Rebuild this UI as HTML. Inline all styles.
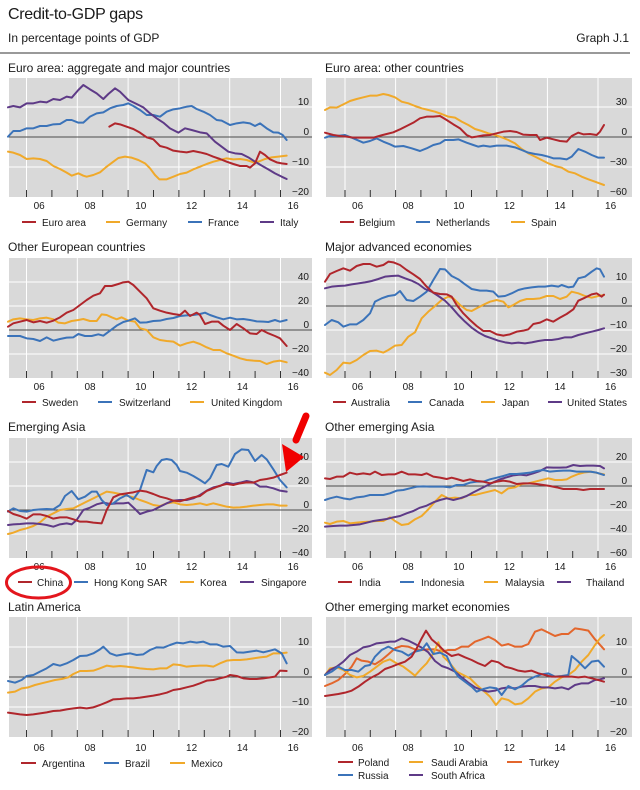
<!DOCTYPE html>
<html>
<head>
<meta charset="utf-8">
<style>
html,body{margin:0;padding:0;background:#fff;}
svg{display:block;}
text{font-family:"Liberation Sans",Arial,sans-serif;fill:#1a1a1a;}
.ax{font-size:10px;}
.lg{font-size:10px;}
.pt{font-size:12px;}
.s{fill:none;stroke-width:6;stroke-linejoin:round;stroke-linecap:round;}
.r{stroke:#b0262c;} .b{stroke:#3b73b9;} .o{stroke:#f0a92a;} .p{stroke:#5e3a87;} .t{stroke:#e3662c;}
</style>
</head>
<body>
<svg width="640" height="790" viewBox="0 0 640 790" xmlns="http://www.w3.org/2000/svg">
<rect width="640" height="790" fill="#fff"/>
<!-- Header -->
<text x="8" y="19" style="font-size:16px;letter-spacing:-0.3px">Credit-to-GDP gaps</text>
<text x="8" y="42" class="pt">In percentage points of GDP</text>
<text x="629" y="42" class="pt" text-anchor="end">Graph J.1</text>
<line x1="0" y1="53" x2="630" y2="53" stroke="#333" stroke-width="1"/>

<!-- Panel titles -->
<text x="8" y="72" class="pt">Euro area: aggregate and major countries</text>
<text x="325" y="72" class="pt">Euro area: other countries</text>
<text x="8" y="251" class="pt">Other European countries</text>
<text x="325" y="251" class="pt">Major advanced economies</text>
<text x="8" y="431" class="pt">Emerging Asia</text>
<text x="325" y="431" class="pt">Other emerging Asia</text>
<text x="8" y="611" class="pt">Latin America</text>
<text x="325" y="611" class="pt">Other emerging market economies</text>

<!-- Backgrounds -->
<g fill="#d9d9d9">
<rect x="9" y="78" width="303" height="119"/>
<rect x="326" y="78" width="306" height="119"/>
<rect x="9" y="258" width="303" height="120"/>
<rect x="326" y="258" width="306" height="120"/>
<rect x="9" y="438" width="303" height="120"/>
<rect x="326" y="438" width="306" height="120"/>
<rect x="9" y="617" width="303" height="120"/>
<rect x="326" y="617" width="306" height="120"/>
</g>

<!-- Vertical white gridlines -->
<g stroke="#fff" stroke-width="1">
<g id="vl">
<line x1="26.5" y1="78" x2="26.5" y2="197"/><line x1="77.3" y1="78" x2="77.3" y2="197"/><line x1="128.1" y1="78" x2="128.1" y2="197"/><line x1="178.9" y1="78" x2="178.9" y2="197"/><line x1="229.7" y1="78" x2="229.7" y2="197"/><line x1="280.5" y1="78" x2="280.5" y2="197"/>
<line x1="26.5" y1="258" x2="26.5" y2="378"/><line x1="77.3" y1="258" x2="77.3" y2="378"/><line x1="128.1" y1="258" x2="128.1" y2="378"/><line x1="178.9" y1="258" x2="178.9" y2="378"/><line x1="229.7" y1="258" x2="229.7" y2="378"/><line x1="280.5" y1="258" x2="280.5" y2="378"/>
<line x1="26.5" y1="438" x2="26.5" y2="558"/><line x1="77.3" y1="438" x2="77.3" y2="558"/><line x1="128.1" y1="438" x2="128.1" y2="558"/><line x1="178.9" y1="438" x2="178.9" y2="558"/><line x1="229.7" y1="438" x2="229.7" y2="558"/><line x1="280.5" y1="438" x2="280.5" y2="558"/>
<line x1="26.5" y1="617" x2="26.5" y2="737"/><line x1="77.3" y1="617" x2="77.3" y2="737"/><line x1="128.1" y1="617" x2="128.1" y2="737"/><line x1="178.9" y1="617" x2="178.9" y2="737"/><line x1="229.7" y1="617" x2="229.7" y2="737"/><line x1="280.5" y1="617" x2="280.5" y2="737"/>
</g>
<g>
<line x1="345" y1="78" x2="345" y2="197"/><line x1="395.6" y1="78" x2="395.6" y2="197"/><line x1="446.2" y1="78" x2="446.2" y2="197"/><line x1="496.8" y1="78" x2="496.8" y2="197"/><line x1="547.4" y1="78" x2="547.4" y2="197"/><line x1="598" y1="78" x2="598" y2="197"/>
<line x1="345" y1="258" x2="345" y2="378"/><line x1="395.6" y1="258" x2="395.6" y2="378"/><line x1="446.2" y1="258" x2="446.2" y2="378"/><line x1="496.8" y1="258" x2="496.8" y2="378"/><line x1="547.4" y1="258" x2="547.4" y2="378"/><line x1="598" y1="258" x2="598" y2="378"/>
<line x1="345" y1="438" x2="345" y2="558"/><line x1="395.6" y1="438" x2="395.6" y2="558"/><line x1="446.2" y1="438" x2="446.2" y2="558"/><line x1="496.8" y1="438" x2="496.8" y2="558"/><line x1="547.4" y1="438" x2="547.4" y2="558"/><line x1="598" y1="438" x2="598" y2="558"/>
<line x1="345" y1="617" x2="345" y2="737"/><line x1="395.6" y1="617" x2="395.6" y2="737"/><line x1="446.2" y1="617" x2="446.2" y2="737"/><line x1="496.8" y1="617" x2="496.8" y2="737"/><line x1="547.4" y1="617" x2="547.4" y2="737"/><line x1="598" y1="617" x2="598" y2="737"/>
</g>
<!-- Horizontal white gridlines -->
<line x1="9" y1="107" x2="312" y2="107"/><line x1="9" y1="167" x2="312" y2="167"/>
<line x1="326" y1="107" x2="632" y2="107"/><line x1="326" y1="167" x2="632" y2="167"/>
<line x1="9" y1="282" x2="312" y2="282"/><line x1="9" y1="306" x2="312" y2="306"/><line x1="9" y1="354" x2="312" y2="354"/>
<line x1="326" y1="282" x2="632" y2="282"/><line x1="326" y1="330" x2="632" y2="330"/><line x1="326" y1="354" x2="632" y2="354"/>
<line x1="9" y1="462" x2="312" y2="462"/><line x1="9" y1="486" x2="312" y2="486"/><line x1="9" y1="534" x2="312" y2="534"/>
<line x1="326" y1="462" x2="632" y2="462"/><line x1="326" y1="510" x2="632" y2="510"/><line x1="326" y1="534" x2="632" y2="534"/>
<line x1="9" y1="647" x2="312" y2="647"/><line x1="9" y1="707" x2="312" y2="707"/>
<line x1="326" y1="647" x2="632" y2="647"/><line x1="326" y1="707" x2="632" y2="707"/>
</g>

<!-- Zero lines -->
<g stroke="#4a4a4a" stroke-width="1">
<line x1="9" y1="137" x2="312" y2="137"/><line x1="326" y1="137" x2="632" y2="137"/>
<line x1="9" y1="330" x2="312" y2="330"/><line x1="326" y1="306" x2="632" y2="306"/>
<line x1="9" y1="510" x2="312" y2="510"/><line x1="326" y1="486" x2="632" y2="486"/>
<line x1="9" y1="677" x2="312" y2="677"/><line x1="326" y1="677" x2="632" y2="677"/>
</g>

<!-- Ticks -->
<g stroke="#333" stroke-width="1">
<path d="M26.5 190V197M51.9 190V197M77.3 190V197M102.7 190V197M128.1 190V197M153.5 190V197M178.9 190V197M204.3 190V197M229.7 190V197M255.1 190V197M280.5 190V197"/>
<path d="M26.5 371V378M51.9 371V378M77.3 371V378M102.7 371V378M128.1 371V378M153.5 371V378M178.9 371V378M204.3 371V378M229.7 371V378M255.1 371V378M280.5 371V378"/>
<path d="M26.5 551V558M51.9 551V558M77.3 551V558M102.7 551V558M128.1 551V558M153.5 551V558M178.9 551V558M204.3 551V558M229.7 551V558M255.1 551V558M280.5 551V558"/>
<path d="M26.5 730V737M51.9 730V737M77.3 730V737M102.7 730V737M128.1 730V737M153.5 730V737M178.9 730V737M204.3 730V737M229.7 730V737M255.1 730V737M280.5 730V737"/>
<path d="M345 190V197M370.3 190V197M395.6 190V197M420.9 190V197M446.2 190V197M471.5 190V197M496.8 190V197M522.1 190V197M547.4 190V197M572.7 190V197M598 190V197"/>
<path d="M345 371V378M370.3 371V378M395.6 371V378M420.9 371V378M446.2 371V378M471.5 371V378M496.8 371V378M522.1 371V378M547.4 371V378M572.7 371V378M598 371V378"/>
<path d="M345 551V558M370.3 551V558M395.6 551V558M420.9 551V558M446.2 551V558M471.5 551V558M496.8 551V558M522.1 551V558M547.4 551V558M572.7 551V558M598 551V558"/>
<path d="M345 730V737M370.3 730V737M395.6 730V737M420.9 730V737M446.2 730V737M471.5 730V737M496.8 730V737M522.1 730V737M547.4 730V737M572.7 730V737M598 730V737"/>
</g>

<!-- Panel 1 series -->
<g transform="translate(0,0) scale(0.333333)">
<polyline class="s o" points="24,455 40,458 60,465 80,477 100,475 120,477 140,483 160,498 180,507 200,518 215,527 235,520 250,527 260,530 280,525 300,517 320,500 340,485 355,474 375,470 395,473 415,480 435,490 450,505 465,525 478,538 500,538 520,530 540,522 560,518 580,508 600,500 620,492 640,485 660,480 680,475 700,478 720,477 740,480 760,487 775,485 795,477 815,472 835,470 860,467"/>
<polyline class="s b" points="24,410 40,393 60,393 80,385 100,385 120,378 140,378 160,373 180,372 200,360 215,360 235,368 250,368 270,350 290,340 310,337 330,325 350,318 370,315 385,310 400,318 420,330 440,345 460,345 480,350 500,335 520,328 540,325 560,320 575,318 590,327 610,335 630,345 650,360 665,362 690,375 710,370 730,367 750,370 765,378 780,370 800,385 820,397 835,398 848,405 860,420"/>
<polyline class="s p" points="24,322 40,318 60,322 80,310 100,310 120,305 140,307 160,297 180,300 200,290 215,293 235,270 250,255 270,268 290,280 310,297 325,282 345,265 360,275 385,300 410,312 430,322 450,340 470,355 490,368 510,385 535,398 555,385 575,390 600,397 620,400 645,425 665,440 685,455 705,460 725,462 745,472 765,485 785,497 805,508 825,520 845,530 860,537"/>
<polyline class="s r" points="328,380 345,370 360,373 380,380 400,387 420,398 440,412 460,418 480,438 500,443 520,452 540,455 560,457 580,453 600,457 620,462 640,470 660,477 680,485 700,492 720,498 740,498 750,503 765,490 780,455 795,465 810,478 830,487 845,490 860,492"/>
</g>

<!-- Panel 2 series -->
<g transform="translate(320,0) scale(0.333333)">
<polyline class="s o" points="15,330 30,322 50,323 70,313 90,303 110,297 130,292 150,287 170,287 190,282 205,285 225,292 245,305 265,310 285,318 305,325 325,330 345,335 365,342 385,350 405,353 425,365 445,375 465,387 485,393 505,400 525,405 545,412 565,420 585,430 605,447 625,460 645,470 665,480 685,490 705,498 725,503 745,515 765,520 785,530 805,538 825,545 852,555"/>
<polyline class="s b" points="15,413 30,408 50,408 75,405 100,415 130,428 150,423 170,415 190,425 210,433 225,440 250,438 275,445 300,453 320,445 340,435 360,430 375,420 400,420 415,418 440,428 460,435 475,440 490,437 510,440 530,437 560,437 585,442 605,450 625,458 645,462 665,465 685,470 700,475 720,475 740,478 755,470 775,447 795,455 815,465 835,473 852,473"/>
<polyline class="s r" points="15,398 40,405 60,408 80,410 100,413 120,413 140,413 160,413 180,407 200,402 220,397 240,388 260,378 280,368 300,355 320,350 340,350 360,348 380,360 400,373 420,385 440,405 455,412 470,410 490,406 510,405 530,400 550,395 570,393 590,396 610,404 630,405 650,405 660,420 680,413 700,418 720,423 740,425 755,408 775,398 790,403 810,402 830,405 840,395 852,375"/>
</g>

<!-- Panel 3 series -->
<g transform="translate(0,230) scale(0.333333)">
<polyline class="s o" points="24,275 40,268 60,265 80,268 100,270 120,265 140,263 160,268 175,278 195,280 215,273 235,270 250,267 270,273 290,273 305,253 320,255 335,262 350,268 365,262 385,272 405,275 420,295 440,300 460,322 480,330 500,333 520,335 540,347 560,340 580,335 600,342 620,352 640,360 660,360 680,370 700,377 720,385 740,390 760,392 780,393 800,402 820,395 840,392 860,397"/>
<polyline class="s b" points="24,318 60,318 80,325 100,327 120,333 140,322 160,332 180,327 200,323 220,322 235,312 255,318 275,318 295,313 310,317 330,302 350,287 370,276 385,272 405,265 420,278 440,277 460,273 480,272 500,267 520,264 540,258 560,256 580,255 600,252 615,248 630,255 650,262 670,268 690,263 710,268 730,267 750,270 770,274 790,275 805,276 825,270 840,275 860,270"/>
<polyline class="s r" points="24,290 40,280 60,275 80,270 100,277 120,273 140,278 160,272 180,262 200,248 220,240 240,225 260,210 280,197 300,190 315,168 335,168 355,162 370,157 385,155 400,165 420,185 440,205 460,235 480,242 500,248 520,252 540,255 555,242 570,258 590,248 600,255 615,282 635,275 655,275 670,287 690,300 710,282 730,295 750,310 770,312 785,300 805,310 825,318 840,325 860,348"/>
</g>

<!-- Panel 4 series -->
<g transform="translate(320,230) scale(0.333333)">
<polyline class="s o" points="15,428 30,435 50,420 70,398 90,400 110,390 130,375 150,363 170,362 190,368 205,360 225,347 245,345 265,320 285,307 305,265 325,245 345,228 365,210 385,200 400,205 420,225 440,240 455,243 475,232 495,222 510,215 530,210 550,215 565,232 580,225 600,213 620,207 640,207 660,205 680,198 700,198 720,207 740,200 755,185 775,190 795,198 815,203 835,198 852,195"/>
<polyline class="s b" points="15,285 35,270 55,277 70,290 90,283 110,283 130,270 150,250 165,215 185,205 205,198 225,195 240,183 260,210 280,213 300,200 320,185 340,150 360,117 375,118 395,138 415,148 435,163 455,177 480,182 500,182 520,185 535,200 555,198 575,190 595,180 615,175 635,172 655,170 675,170 695,167 715,170 725,165 745,172 760,170 775,145 795,140 815,125 830,115 840,118 852,140"/>
<polyline class="s p" points="15,175 35,170 55,168 75,167 95,163 115,160 135,157 155,153 175,147 195,140 215,138 235,137 255,145 275,152 295,162 315,177 335,185 355,198 375,212 395,232 415,255 435,275 455,293 475,307 495,318 515,325 535,332 555,337 575,340 595,338 615,340 635,337 655,333 675,330 695,330 715,327 735,322 755,322 775,315 795,310 815,305 835,300 852,295"/>
<polyline class="s r" points="15,155 30,132 50,123 70,115 90,122 110,108 130,102 150,102 170,110 190,105 205,95 220,97 240,105 260,120 280,133 300,147 320,170 340,188 360,192 380,193 395,200 410,225 430,250 450,270 470,288 490,303 510,303 530,313 550,317 570,313 590,305 610,302 625,298 640,282 660,278 680,268 700,275 720,263 740,252 760,238 775,212 795,203 815,193 830,190 845,200 852,194"/>
</g>

<!-- Panel 5 series -->
<g transform="translate(0,410) scale(0.333333)">
<polyline class="s o" points="24,372 40,368 60,360 80,355 100,348 120,337 140,320 160,310 180,300 200,297 220,295 240,285 260,275 280,265 300,255 320,245 340,248 360,252 380,257 400,262 420,270 440,277 460,285 480,288 500,280 520,277 540,283 560,285 580,283 600,280 620,285 640,280 660,285 680,290 700,293 720,292 740,290 760,287 780,285 800,283 820,283 840,287 860,287"/>
<polyline class="s p" points="24,345 40,343 60,342 80,340 100,340 120,342 140,345 160,350 180,343 200,340 215,343 230,330 250,300 270,293 290,283 310,278 330,282 350,280 370,280 385,278 405,297 420,312 440,305 460,300 480,290 500,280 520,272 540,270 560,270 580,265 600,255 620,242 640,232 660,228 680,218 700,222 720,218 740,213 760,217 780,230 800,230 820,235 840,242 860,245"/>
<polyline class="s b" points="24,305 40,295 60,303 80,305 100,300 120,298 140,297 160,298 180,285 195,258 215,243 235,268 255,260 275,245 290,245 305,270 320,285 340,280 360,265 380,255 400,268 420,240 440,180 460,187 470,168 485,150 500,147 515,150 530,165 540,183 560,188 580,198 600,210 615,220 630,205 650,165 665,162 685,170 705,132 725,118 745,120 765,153 785,135 800,148 820,178 840,210 860,232"/>
<polyline class="s r" points="24,303 40,312 60,318 80,326 100,313 120,313 140,318 160,326 180,322 200,322 220,328 240,335 260,335 280,338 305,340 320,300 340,262 360,253 380,250 400,247 420,242 440,245 460,252 480,260 500,265 520,272 540,274 560,268 580,262 600,258 620,243 640,235 660,227 680,222 700,225 720,220 740,217 760,218 780,210 800,207 820,203 840,195 860,188"/>
</g>

<!-- Panel 6 series -->
<g transform="translate(320,410) scale(0.333333)">
<polyline class="s o" points="15,338 30,342 50,335 70,333 90,340 110,338 130,336 150,335 170,333 190,333 210,322 225,333 245,345 265,342 285,328 305,318 325,298 345,275 365,255 385,265 405,263 425,265 445,255 465,255 485,250 505,245 525,240 545,250 565,235 585,232 605,222 625,220 645,215 665,210 685,205 705,210 725,210 740,208 755,200 775,192 795,187 815,185 835,190 852,193"/>
<polyline class="s p" points="15,350 40,348 60,347 80,347 100,345 120,343 140,338 160,333 180,330 200,327 220,322 240,318 260,310 280,303 300,293 320,287 340,277 360,270 380,265 400,270 420,265 440,258 460,247 480,237 500,227 520,217 540,208 560,202 580,196 600,194 620,196 640,190 660,183 680,172 700,173 720,173 740,172 760,165 780,168 800,167 820,167 840,168 852,175"/>
<polyline class="s b" points="15,270 30,265 50,260 70,265 90,268 110,262 130,260 150,255 170,255 190,255 210,250 230,242 250,240 270,235 290,230 310,229 330,230 350,230 370,230 390,232 410,225 430,225 450,218 470,215 490,215 510,208 530,203 550,198 570,192 590,192 610,190 630,188 650,183 670,180 690,185 710,183 730,182 750,182 770,185 790,185 810,185 830,188 852,195"/>
<polyline class="s r" points="15,205 30,207 50,200 70,200 90,188 110,193 130,190 150,193 165,185 185,195 205,193 225,193 245,185 265,193 285,193 305,195 320,190 340,200 360,203 380,207 395,203 410,207 430,213 450,208 470,213 490,215 510,220 530,215 550,212 570,215 590,222 610,220 630,220 650,222 670,225 690,228 710,232 730,237 750,237 770,237 790,240 810,237 830,237 852,237"/>
</g>

<!-- Panel 7 series -->
<g transform="translate(0,600) scale(0.333333)">
<polyline class="s o" points="24,278 45,275 65,265 85,262 105,255 125,250 145,245 165,240 185,237 205,232 220,222 240,213 260,213 280,212 300,205 320,197 340,200 360,198 380,200 400,202 420,205 440,207 460,208 480,205 500,205 520,193 540,195 560,200 580,198 600,197 620,197 640,200 660,190 680,182 700,180 720,180 740,178 760,175 780,172 800,170 820,160 840,160 860,158"/>
<polyline class="s b" points="24,243 45,248 65,240 80,228 100,225 120,215 140,205 160,192 180,197 200,190 220,180 240,168 260,167 280,160 300,148 310,140 330,160 350,167 370,163 390,160 410,165 430,163 450,150 470,142 490,143 510,135 530,128 550,130 570,125 590,128 610,125 630,133 650,133 670,140 690,138 710,157 730,158 750,155 770,152 790,157 810,152 825,148 845,160 860,190"/>
<polyline class="s r" points="24,338 40,340 60,343 80,345 100,343 120,340 140,337 160,333 180,332 200,328 220,325 240,323 260,325 280,322 300,315 320,307 340,298 360,297 380,295 400,295 420,293 440,290 460,287 480,283 500,278 520,270 540,267 560,262 580,257 600,250 620,242 640,240 660,235 680,230 690,225 710,228 730,235 750,237 770,237 790,235 810,232 825,230 840,212 860,213"/>
</g>

<!-- Panel 8 series -->
<g transform="translate(320,600) scale(0.333333)">
<polyline class="s t" points="15,258 35,250 55,240 75,222 95,200 110,175 125,182 145,185 165,193 185,180 205,163 225,145 245,138 265,140 285,148 305,150 325,148 345,148 365,155 385,150 405,150 425,140 445,140 465,125 485,118 505,110 525,120 545,137 565,132 585,140 605,140 625,132 645,95 665,88 685,98 705,108 725,102 745,102 765,85 785,88 805,92 825,118 852,148"/>
<polyline class="s o" points="15,225 30,205 50,202 70,210 90,225 110,232 130,228 150,215 170,200 190,185 210,178 230,190 250,200 270,215 285,227 305,205 320,190 340,160 355,127 370,170 390,190 410,215 430,225 450,235 470,255 490,272 510,290 528,315 545,295 565,300 585,313 605,310 625,295 645,275 665,265 685,262 705,245 725,232 745,225 765,210 785,185 805,165 825,135 840,115 852,105"/>
<polyline class="s p" points="15,225 30,210 50,200 70,185 90,165 110,155 130,142 150,138 170,130 190,128 210,125 225,125 245,115 265,122 285,132 305,143 325,157 345,183 365,198 385,205 405,215 425,232 445,248 465,262 485,270 505,275 525,272 545,265 565,262 585,265 605,260 625,258 645,258 665,262 685,262 705,265 725,262 745,268 765,255 785,250 805,250 825,240 840,238 852,235"/>
<polyline class="s b" points="15,225 35,215 55,200 75,210 95,210 115,215 135,198 150,195 165,170 185,150 205,140 225,150 245,155 265,167 285,155 305,150 320,130 340,162 360,158 380,168 395,200 415,230 435,245 455,260 470,275 490,267 510,262 530,265 545,285 565,258 585,268 605,257 625,240 645,230 665,223 685,220 705,230 725,228 745,225 755,168 775,185 795,205 815,185 835,182 852,200"/>
<polyline class="s r" points="15,288 35,285 55,282 75,278 95,272 115,260 135,245 155,232 175,222 195,207 215,200 235,192 255,185 275,170 290,145 305,115 318,92 335,118 355,135 375,155 395,168 415,163 435,172 455,180 475,190 495,198 515,182 535,187 555,200 575,205 595,212 615,215 635,212 655,220 675,225 695,230 715,230 735,230 755,230 775,232 795,230 815,235 835,240 852,245"/>
</g>

<!-- Y-axis labels -->
<g class="ax" text-anchor="end">
<text x="309" y="105">10</text><text x="309" y="135">0</text><text x="309" y="165">−10</text><text x="309" y="195">−20</text>
<text x="627" y="105">30</text><text x="627" y="135">0</text><text x="627" y="165">−30</text><text x="627" y="195">−60</text>
<text x="309" y="280">40</text><text x="309" y="304">20</text><text x="309" y="328">0</text><text x="309" y="352">−20</text><text x="309" y="376">−40</text>
<text x="627" y="280">10</text><text x="627" y="304">0</text><text x="627" y="328">−10</text><text x="627" y="352">−20</text><text x="627" y="376">−30</text>
<text x="309" y="460">40</text><text x="309" y="484">20</text><text x="309" y="508">0</text><text x="309" y="532">−20</text><text x="309" y="556">−40</text>
<text x="627" y="460">20</text><text x="627" y="484">0</text><text x="627" y="508">−20</text><text x="627" y="532">−40</text><text x="627" y="556">−60</text>
<text x="309" y="645">10</text><text x="309" y="675">0</text><text x="309" y="705">−10</text><text x="309" y="735">−20</text>
<text x="627" y="645">10</text><text x="627" y="675">0</text><text x="627" y="705">−10</text><text x="627" y="735">−20</text>
</g>

<!-- X-axis labels -->
<g class="ax" text-anchor="middle">
<text x="39.2" y="209">06</text><text x="90" y="209">08</text><text x="140.8" y="209">10</text><text x="191.6" y="209">12</text><text x="242.4" y="209">14</text><text x="293.2" y="209">16</text>
<text x="357.6" y="209">06</text><text x="408.2" y="209">08</text><text x="458.8" y="209">10</text><text x="509.4" y="209">12</text><text x="560" y="209">14</text><text x="610.6" y="209">16</text>
<text x="39.2" y="390">06</text><text x="90" y="390">08</text><text x="140.8" y="390">10</text><text x="191.6" y="390">12</text><text x="242.4" y="390">14</text><text x="293.2" y="390">16</text>
<text x="357.6" y="390">06</text><text x="408.2" y="390">08</text><text x="458.8" y="390">10</text><text x="509.4" y="390">12</text><text x="560" y="390">14</text><text x="610.6" y="390">16</text>
<text x="39.2" y="570">06</text><text x="90" y="570">08</text><text x="140.8" y="570">10</text><text x="191.6" y="570">12</text><text x="242.4" y="570">14</text><text x="293.2" y="570">16</text>
<text x="357.6" y="570">06</text><text x="408.2" y="570">08</text><text x="458.8" y="570">10</text><text x="509.4" y="570">12</text><text x="560" y="570">14</text><text x="610.6" y="570">16</text>
<text x="39.2" y="751">06</text><text x="90" y="751">08</text><text x="140.8" y="751">10</text><text x="191.6" y="751">12</text><text x="242.4" y="751">14</text><text x="293.2" y="751">16</text>
<text x="357.6" y="751">06</text><text x="408.2" y="751">08</text><text x="458.8" y="751">10</text><text x="509.4" y="751">12</text><text x="560" y="751">14</text><text x="610.6" y="751">16</text>
</g>

<!-- Legends -->
<g stroke-width="2">
<line x1="22" y1="222" x2="36" y2="222" stroke="#b0262c"/><line x1="106" y1="222" x2="120" y2="222" stroke="#f0a92a"/><line x1="188" y1="222" x2="202" y2="222" stroke="#3b73b9"/><line x1="260" y1="222" x2="274" y2="222" stroke="#5e3a87"/>
<line x1="340" y1="222" x2="354" y2="222" stroke="#b0262c"/><line x1="416" y1="222" x2="430" y2="222" stroke="#3b73b9"/><line x1="511" y1="222" x2="525" y2="222" stroke="#f0a92a"/>
<line x1="22" y1="402" x2="36" y2="402" stroke="#b0262c"/><line x1="98" y1="402" x2="112" y2="402" stroke="#3b73b9"/><line x1="190" y1="402" x2="204" y2="402" stroke="#f0a92a"/>
<line x1="333" y1="402" x2="346" y2="402" stroke="#b0262c"/><line x1="408" y1="402" x2="422" y2="402" stroke="#3b73b9"/><line x1="481" y1="402" x2="495" y2="402" stroke="#f0a92a"/><line x1="548" y1="402" x2="562" y2="402" stroke="#5e3a87"/>
<line x1="18" y1="582" x2="32" y2="582" stroke="#b0262c"/><line x1="74" y1="582" x2="88" y2="582" stroke="#3b73b9"/><line x1="180" y1="582" x2="194" y2="582" stroke="#f0a92a"/><line x1="240" y1="582" x2="254" y2="582" stroke="#5e3a87"/>
<line x1="338" y1="582" x2="352" y2="582" stroke="#b0262c"/><line x1="400" y1="582" x2="414" y2="582" stroke="#3b73b9"/><line x1="484" y1="582" x2="498" y2="582" stroke="#f0a92a"/><line x1="557" y1="582" x2="571" y2="582" stroke="#5e3a87"/>
<line x1="21" y1="763" x2="36" y2="763" stroke="#b0262c"/><line x1="104" y1="763" x2="119" y2="763" stroke="#3b73b9"/><line x1="170" y1="763" x2="185" y2="763" stroke="#f0a92a"/>
<line x1="338" y1="762" x2="353" y2="762" stroke="#b0262c"/><line x1="409" y1="762" x2="423" y2="762" stroke="#f0a92a"/><line x1="507" y1="762" x2="522" y2="762" stroke="#e3662c"/>
<line x1="338" y1="775" x2="353" y2="775" stroke="#3b73b9"/><line x1="409" y1="775" x2="423" y2="775" stroke="#5e3a87"/>
</g>
<g class="lg">
<text x="42" y="226">Euro area</text><text x="126" y="226">Germany</text><text x="208" y="226">France</text><text x="280" y="226">Italy</text>
<text x="359" y="226">Belgium</text><text x="436" y="226">Netherlands</text><text x="531" y="226">Spain</text>
<text x="42" y="406">Sweden</text><text x="119" y="406">Switzerland</text><text x="211" y="406">United Kingdom</text>
<text x="351" y="406">Australia</text><text x="429" y="406">Canada</text><text x="502" y="406">Japan</text><text x="567" y="406">United States</text>
<text x="37" y="586">China</text><text x="94" y="586">Hong Kong SAR</text><text x="200" y="586">Korea</text><text x="261" y="586">Singapore</text>
<text x="359" y="586">India</text><text x="421" y="586">Indonesia</text><text x="505" y="586">Malaysia</text><text x="586" y="586">Thailand</text>
<text x="42" y="767">Argentina</text><text x="125" y="767">Brazil</text><text x="191" y="767">Mexico</text>
<text x="358" y="766">Poland</text><text x="431" y="766">Saudi Arabia</text><text x="529" y="766">Turkey</text>
<text x="358" y="779">Russia</text><text x="431" y="779">South Africa</text>
</g>

<!-- Annotations -->
<ellipse cx="38.5" cy="582.5" rx="32" ry="15.5" fill="none" stroke="#e3161d" stroke-width="3"/>
<line x1="306" y1="416" x2="296" y2="440" stroke="#f00000" stroke-width="7" stroke-linecap="round"/>
<polygon points="282,444 304,457 286,472" fill="#f00000"/>
</svg>
</body>
</html>
